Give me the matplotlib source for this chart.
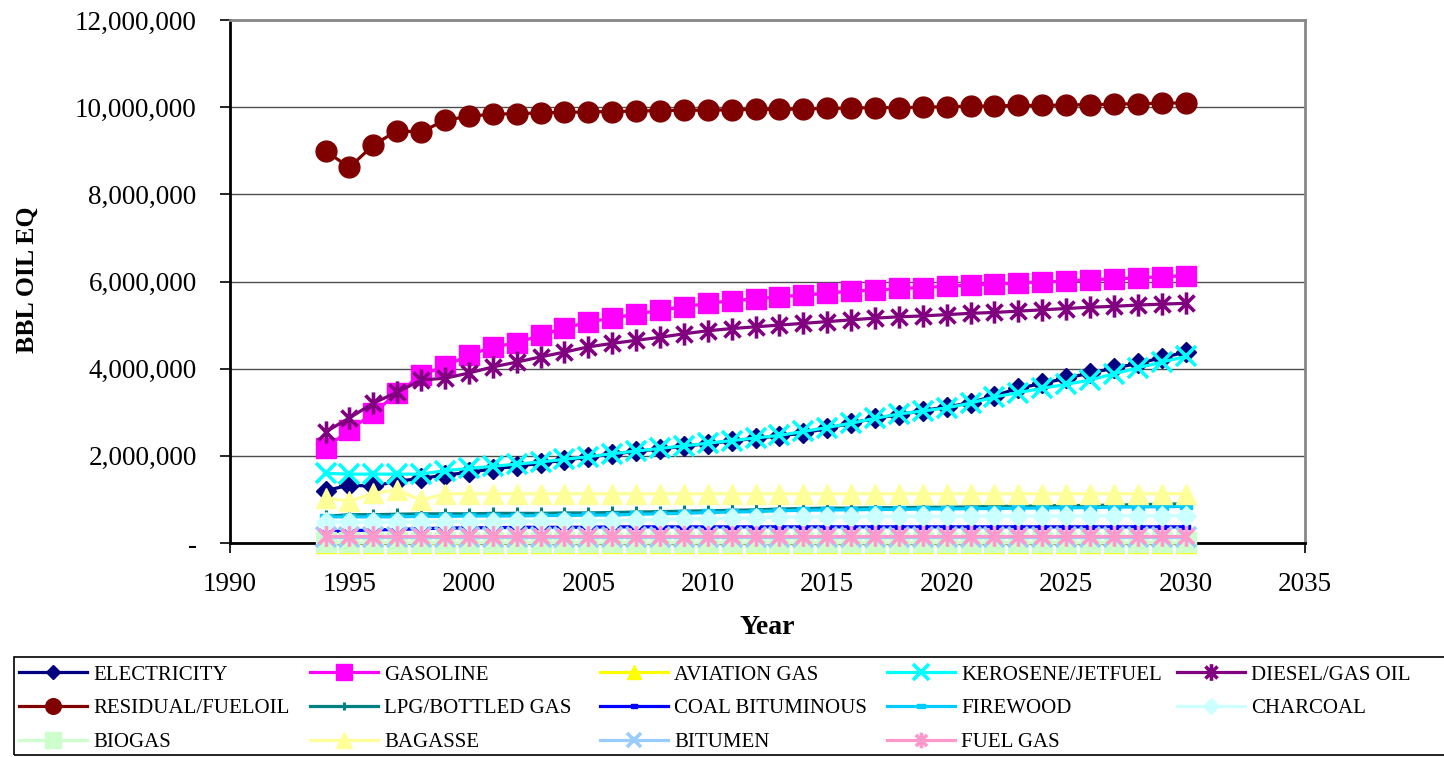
import numpy as np
import matplotlib
matplotlib.use("Agg")
import matplotlib.pyplot as plt
from matplotlib.path import Path
from matplotlib.ticker import FuncFormatter, MultipleLocator

plt.rcParams["font.family"] = ["Liberation Serif", "DejaVu Serif"]

# ---- data: barrels of oil equivalent, in millions ----
years = list(range(1994, 2031))

electricity = [1.20, 1.33, 1.30, 1.42, 1.48, 1.56, 1.62, 1.70, 1.76, 1.83, 1.90, 1.97, 2.04,
               2.10, 2.16, 2.22, 2.28, 2.34, 2.40, 2.46, 2.52, 2.63, 2.75, 2.86, 2.94, 3.04,
               3.12, 3.22, 3.38, 3.55, 3.66, 3.78, 3.90, 4.01, 4.12, 4.25, 4.38]
gasoline = [2.18, 2.59, 2.98, 3.44, 3.85, 4.06, 4.31, 4.50, 4.59, 4.77, 4.93, 5.07, 5.16,
            5.25, 5.34, 5.42, 5.50, 5.56, 5.60, 5.65, 5.69, 5.73, 5.78, 5.80, 5.84, 5.86,
            5.89, 5.92, 5.94, 5.97, 5.99, 6.01, 6.04, 6.06, 6.08, 6.11, 6.13]
aviation_gas = [0.00, 0.00, 0.00, 0.00, 0.00, -0.01, 0.00, 0.00, 0.00, 0.00, 0.00, 0.00, 0.00,
                0.00, 0.00, 0.00, 0.00, 0.00, 0.00, 0.00, 0.00, 0.00, 0.00, 0.00, 0.00, 0.00,
                0.00, 0.00, 0.00, 0.00, 0.00, 0.00, 0.00, 0.00, 0.00, 0.00, 0.00]
kerosene = [1.60, 1.58, 1.58, 1.58, 1.58, 1.66, 1.71, 1.76, 1.81, 1.86, 1.92, 1.98, 2.05,
            2.11, 2.17, 2.23, 2.29, 2.35, 2.41, 2.47, 2.56, 2.65, 2.75, 2.86, 2.96, 3.03,
            3.10, 3.21, 3.35, 3.45, 3.55, 3.64, 3.74, 3.88, 4.02, 4.15, 4.28]
diesel = [2.55, 2.87, 3.21, 3.46, 3.74, 3.78, 3.90, 4.04, 4.15, 4.27, 4.38, 4.50, 4.58,
          4.65, 4.72, 4.80, 4.87, 4.92, 4.96, 5.00, 5.04, 5.08, 5.12, 5.16, 5.19, 5.21,
          5.24, 5.27, 5.29, 5.32, 5.35, 5.38, 5.41, 5.43, 5.46, 5.48, 5.50]
residual = [8.99, 8.62, 9.13, 9.46, 9.43, 9.70, 9.79, 9.84, 9.85, 9.87, 9.88, 9.89, 9.90,
            9.91, 9.92, 9.93, 9.93, 9.94, 9.95, 9.95, 9.96, 9.97, 9.98, 9.99, 9.99, 10.00,
            10.01, 10.02, 10.03, 10.04, 10.04, 10.05, 10.06, 10.07, 10.08, 10.09, 10.10]
lpg = [0.61, 0.65, 0.65, 0.66, 0.67, 0.67, 0.67, 0.68, 0.68, 0.68, 0.69, 0.69, 0.70,
       0.71, 0.72, 0.73, 0.74, 0.75, 0.76, 0.78, 0.79, 0.80, 0.80, 0.81, 0.81, 0.82,
       0.82, 0.83, 0.84, 0.84, 0.85, 0.86, 0.86, 0.87, 0.88, 0.89, 0.90]
coal = [0.26, 0.28, 0.30, 0.31, 0.33, 0.34, 0.35, 0.35, 0.36, 0.36, 0.36, 0.36, 0.37,
        0.37, 0.37, 0.37, 0.37, 0.37, 0.37, 0.37, 0.37, 0.37, 0.37, 0.37, 0.37, 0.37,
        0.37, 0.37, 0.37, 0.37, 0.37, 0.37, 0.37, 0.37, 0.37, 0.37, 0.37]
firewood = [0.60, 0.60, 0.60, 0.60, 0.61, 0.61, 0.62, 0.62, 0.62, 0.63, 0.63, 0.64, 0.64,
            0.66, 0.67, 0.68, 0.70, 0.71, 0.72, 0.74, 0.75, 0.76, 0.76, 0.77, 0.77, 0.78,
            0.78, 0.79, 0.79, 0.80, 0.80, 0.81, 0.81, 0.82, 0.83, 0.83, 0.84]
charcoal = [0.48, 0.48, 0.48, 0.48, 0.48, 0.49, 0.49, 0.49, 0.50, 0.50, 0.50, 0.51, 0.51,
            0.53, 0.54, 0.55, 0.56, 0.57, 0.58, 0.59, 0.60, 0.60, 0.60, 0.61, 0.61, 0.61,
            0.61, 0.62, 0.62, 0.62, 0.62, 0.62, 0.63, 0.63, 0.63, 0.63, 0.63]
biogas = [0.015, 0.015, 0.015, 0.015, 0.015, 0.015, 0.015, 0.015, 0.015, 0.015, 0.015, 0.015,
          0.015, 0.015, 0.015, 0.015, 0.015, 0.015, 0.015, 0.015, 0.015, 0.015, 0.015, 0.015,
          0.015, 0.015, 0.015, 0.015, 0.015, 0.015, 0.015, 0.015, 0.015, 0.015, 0.015, 0.015,
          0.015]
bagasse = [1.03, 0.96, 1.14, 1.22, 0.98, 1.13, 1.13, 1.13, 1.13, 1.13, 1.13, 1.13, 1.13,
           1.13, 1.13, 1.13, 1.13, 1.13, 1.13, 1.13, 1.13, 1.13, 1.13, 1.13, 1.13, 1.13,
           1.13, 1.13, 1.13, 1.13, 1.13, 1.13, 1.13, 1.13, 1.13, 1.13, 1.13]
bitumen = [0.13, 0.13, 0.13, 0.13, 0.13, 0.13, 0.13, 0.13, 0.13, 0.13, 0.13, 0.13, 0.13,
           0.13, 0.13, 0.13, 0.13, 0.13, 0.13, 0.13, 0.13, 0.13, 0.13, 0.13, 0.13, 0.13,
           0.13, 0.13, 0.13, 0.13, 0.13, 0.13, 0.13, 0.13, 0.13, 0.13, 0.13]
fuel_gas = [0.15, 0.15, 0.15, 0.15, 0.15, 0.15, 0.15, 0.15, 0.15, 0.15, 0.15, 0.15, 0.15,
            0.15, 0.15, 0.15, 0.15, 0.15, 0.15, 0.15, 0.15, 0.15, 0.15, 0.15, 0.15, 0.15,
            0.15, 0.15, 0.15, 0.15, 0.15, 0.15, 0.15, 0.15, 0.15, 0.15, 0.15]

labels = ["ELECTRICITY", "GASOLINE", "AVIATION GAS", "KEROSENE/JETFUEL", "DIESEL/GAS OIL",
          "RESIDUAL/FUELOIL", "LPG/BOTTLED GAS", "COAL BITUMINOUS", "FIREWOOD", "CHARCOAL",
          "BIOGAS", "BAGASSE", "BITUMEN", "FUEL GAS"]
series = [electricity, gasoline, aviation_gas, kerosene, diesel, residual, lpg, coal,
          firewood, charcoal, biogas, bagasse, bitumen, fuel_gas]
UNIT = 1_000_000

# ---- marker shapes ----
asterisk = Path([(0, -1), (0, 1), (-0.72, -0.72), (0.72, 0.72), (-0.72, 0.72), (0.72, -0.72)],
                [Path.MOVETO, Path.LINETO, Path.MOVETO, Path.LINETO, Path.MOVETO, Path.LINETO])
dash = [(-1, -0.5), (1, -0.5), (1, 0.5), (-1, 0.5), (-1, -0.5)]

# colour, marker, marker size, marker edge width, open marker
styles = [
    ("#000080", "D", 10, 1, False),
    ("#FF00FF", "s", 14.5, 1, False),
    ("#FFFF00", "^", 14, 1, False),
    ("#00FFFF", "x", 14.5, 2.6, True),
    ("#800080", asterisk, 16, 2.6, True),
    ("#800000", "o", 15, 1, False),
    ("#008080", "+", 8, 2.2, True),
    ("#0000FF", dash, 6, 1, False),
    ("#00CCFF", dash, 8, 1, False),
    ("#CCFFFF", "D", 10.5, 1, False),
    ("#CCFFCC", "s", 14.5, 1, False),
    ("#FFFF99", "^", 14.5, 1, False),
    ("#99CCFF", "x", 14, 2.6, True),
    ("#FF99CC", asterisk, 15, 2.6, True),
]

fig = plt.figure(figsize=(14.44, 7.57), dpi=100)
ax = fig.add_axes([230 / 1444, 1 - 543 / 757, 1075 / 1444, 523 / 757])

handles = []
for vals, lab, (col, mk, ms, mew, open_) in zip(series, labels, styles):
    y = np.array(vals) * UNIT
    h, = ax.plot(years, y, color=col, lw=2.3, marker=mk, markersize=ms,
                 markeredgewidth=mew, markeredgecolor=col,
                 markerfacecolor="none" if open_ else col,
                 label=lab, clip_on=False, zorder=3)
    handles.append(h)

ax.set_xlim(1990, 2035)
ax.set_ylim(0, 12_000_000)
ax.xaxis.set_major_locator(MultipleLocator(5))
ax.yaxis.set_major_locator(MultipleLocator(2_000_000))
ax.yaxis.set_major_formatter(FuncFormatter(lambda v, p: "-" if v == 0 else f"{v:,.0f}"))

ax.yaxis.grid(True, color="#4d4d4d", lw=1.0)
ax.set_axisbelow(True)
for side in ("left", "bottom"):
    ax.spines[side].set_color("black")
    ax.spines[side].set_linewidth(2.0)
for side in ("top", "right"):
    ax.spines[side].set_color("#888888")
    ax.spines[side].set_linewidth(2.0)

ax.tick_params(axis="both", direction="out", length=7, width=1.2, labelsize=19.5)
ax.tick_params(axis="y", pad=17)
ax.tick_params(axis="x", pad=14)

fig.text(27 / 1444, 1 - 280 / 757, "BBL OIL EQ", rotation=90, ha="center", va="center",
         fontsize=18.5, fontweight="bold")
fig.text(767 / 1444, 1 - 627 / 757, "Year", ha="center", va="center",
         fontsize=20, fontweight="bold")

# legend: five columns, three rows, inside one box along the bottom
col_x = [19, 310, 600, 887, 1177]
for c in range(5):
    idx = [c, c + 5, c + 10]
    idx = [i for i in idx if i < len(handles)]
    fig.legend([handles[i] for i in idx], [labels[i] for i in idx],
               loc="upper left", bbox_to_anchor=(col_x[c] / 1444, 1 - 665 / 757),
               frameon=False, fontsize=15, handlelength=3.25, handletextpad=0.3,
               borderpad=0, borderaxespad=0, labelspacing=0.68, markerscale=0.75)

fig.add_artist(plt.Rectangle((14 / 1444, 1 - 755 / 757), 1.1, (755 - 657) / 757,
                             transform=fig.transFigure, fill=False, edgecolor="black",
                             lw=1.2, clip_on=False))

fig.savefig("out.png", dpi=100)
